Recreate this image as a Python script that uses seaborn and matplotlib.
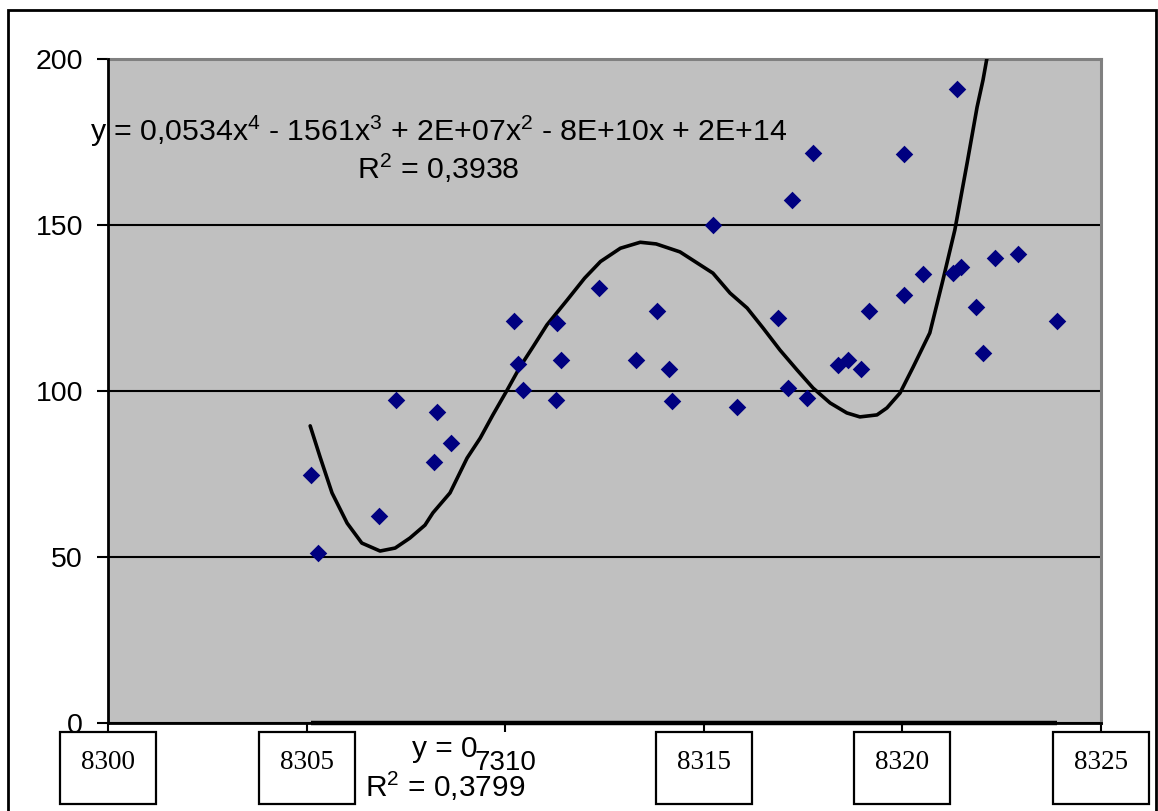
import pandas as pd
import seaborn as sns
import matplotlib.pyplot as plt
from matplotlib.patches import Rectangle
from matplotlib.transforms import blended_transform_factory

# valores
x_vals = [8305.10, 8305.28, 8306.83, 8307.26, 8308.22, 8308.29, 8308.64,
          8310.23, 8310.33, 8310.45, 8311.31, 8311.41, 8311.28, 8312.36,
          8313.29, 8313.82, 8314.12, 8314.20, 8315.23, 8315.83, 8316.86,
          8317.21, 8317.11, 8317.76, 8317.61, 8318.37, 8318.62, 8318.97,
          8319.15, 8320.03, 8320.03, 8320.53, 8321.28, 8321.48, 8321.38,
          8321.86, 8322.04, 8322.34, 8322.91, 8323.89]
y_vals = [74.8, 51.3, 62.4, 97.4, 78.7, 93.8, 84.2,
          121.0, 108.0, 100.2, 120.4, 109.2, 97.4, 130.9,
          109.2, 124.0, 106.5, 97.1, 149.9, 95.3, 121.9,
          157.5, 100.8, 171.6, 98.0, 107.7, 109.2, 106.5,
          124.0, 128.8, 171.3, 135.1, 135.4, 137.3, 191.0,
          125.2, 111.3, 140.0, 141.2, 121.0]

trend_x = [8305.09, 8305.34, 8305.64, 8306.02, 8306.39, 8306.85, 8307.23,
           8307.60, 8307.98, 8308.18, 8308.61, 8309.04, 8309.37, 8309.69,
           8310.05, 8310.37, 8310.70, 8311.05, 8311.56, 8312.00, 8312.40,
           8312.90, 8313.40, 8313.80, 8314.40, 8315.23, 8315.66, 8316.09,
           8316.49, 8316.92, 8317.35, 8317.75, 8318.18, 8318.60, 8318.93,
           8319.36, 8319.61, 8319.94, 8320.27, 8320.69, 8321.02, 8321.32,
           8321.63, 8321.88, 8322.03, 8322.20]
trend_y = [89.5, 80.1, 69.3, 60.2, 54.2, 51.8, 52.7,
           55.7, 59.6, 63.3, 69.3, 79.8, 85.8, 92.8,
           100.3, 107.2, 113.3, 119.9, 127.4, 134.0, 139.0,
           143.0, 144.8, 144.3, 141.9, 135.5, 129.5, 125.0,
           119.0, 112.3, 106.3, 100.9, 96.4, 93.4, 92.2,
           92.8, 94.9, 99.4, 107.2, 117.5, 133.4, 148.5,
           168.7, 185.5, 193.7, 205.0]
zero_trend = 0

x_ticks = [8300, 8305, 8310, 8315, 8320, 8325]
x_tick_labels = ['8300', '8305', '7310', '8315', '8320', '8325']
boxed = [True, True, False, True, True, True]
y_ticks = [0, 50, 100, 150, 200]

eq_main = [r'y = 0,0534x$^{4}$ - 1561x$^{3}$ + 2E+07x$^{2}$ - 8E+10x + 2E+14',
           r'R$^{2}$ = 0,3938']
eq_zero = ['y = 0', r'R$^{2}$ = 0,3799']

sns.set_theme(style='white')
plt.rcParams['font.family'] = ['Liberation Sans', 'DejaVu Sans']
plt.rcParams['text.color'] = 'black'
plt.rcParams['mathtext.fontset'] = 'custom'
plt.rcParams['mathtext.rm'] = 'Liberation Sans'
plt.rcParams['mathtext.it'] = 'Liberation Sans'
plt.rcParams['mathtext.default'] = 'regular'

W, H = 1158, 811
fig = plt.figure(figsize=(W / 100, H / 100), dpi=100)
fig.patch.set_facecolor('white')
ax = fig.add_axes([108 / W, 1 - 723 / H, (1101 - 108) / W, (723 - 59) / H])
ax.set_facecolor('#c0c0c0')

df = pd.DataFrame({'x': x_vals, 'y': y_vals})
trend = pd.DataFrame({'x': trend_x, 'y': trend_y})

sns.lineplot(data=trend, x='x', y='y', ax=ax, color='black', lw=2.6,
             zorder=3)
sns.scatterplot(data=df, x='x', y='y', ax=ax, marker='D', s=80,
                color='#000080', linewidth=0, zorder=4)

# linea de tendencia y = 0 de la segunda serie
ax.hlines(zero_trend, min(x_vals), max(x_vals), color='black', lw=3.2,
          zorder=3, clip_on=False)

ax.set_xlim(x_ticks[0], x_ticks[-1])
ax.set_ylim(y_ticks[0], y_ticks[-1])
ax.set_xlabel('')
ax.set_ylabel('')

ax.set_yticks(y_ticks)
ax.set_yticklabels([str(v) for v in y_ticks])
ax.set_xticks(x_ticks)
ax.set_xticklabels(x_tick_labels)
ax.yaxis.grid(True, color='black', lw=1.5)
ax.xaxis.grid(False)
ax.set_axisbelow(True)

ax.tick_params(axis='y', left=True, direction='out', length=8, width=1.5,
               color='black', labelsize=20.5, pad=10, labelcolor='black')
ax.tick_params(axis='x', bottom=True, direction='out', length=6.5, width=1.5,
               color='black', labelsize=19.5, pad=13, labelcolor='black')

for lab, b in zip(ax.get_xticklabels(), boxed):
    if b:
        lab.set_fontfamily('Liberation Serif')
    else:
        lab.set_fontsize(20)

for side in ['left', 'bottom']:
    ax.spines[side].set_color('black')
    ax.spines[side].set_linewidth(2)
    ax.spines[side].set_zorder(5)
for side in ['top', 'right']:
    ax.spines[side].set_color('#808080')
    ax.spines[side].set_linewidth(2.2)

# cajas de las etiquetas del eje x
trans = blended_transform_factory(ax.transData, ax.transAxes)
box_w = 96 / (993 / 25)
for t, b in zip(x_ticks, boxed):
    if b:
        ax.add_patch(Rectangle((t - box_w / 2, -81 / 664), box_w, 72 / 664,
                               transform=trans, facecolor='none',
                               edgecolor='black', lw=1.6, clip_on=False))

# ecuaciones de tendencia
ax.text(8308.32, 175.3, eq_main[0], ha='center', va='baseline', fontsize=21.8,
        zorder=2)
ax.text(8308.32, 164.0, eq_main[1], ha='center', va='baseline', fontsize=21.8,
        zorder=2)
ax.text(8308.49, -34 / 3.32, eq_zero[0], ha='center', va='baseline',
        fontsize=21.5, clip_on=False)
ax.text(8308.49, -74 / 3.32, eq_zero[1], ha='center', va='baseline',
        fontsize=21.5, clip_on=False)

# borde exterior
fig.patches.append(Rectangle((8 / W, -0.05), (1156 - 8) / W, 1.05 - 10 / H,
                             transform=fig.transFigure, facecolor='none',
                             edgecolor='black', lw=2))

fig.savefig('out.png', dpi=100)
